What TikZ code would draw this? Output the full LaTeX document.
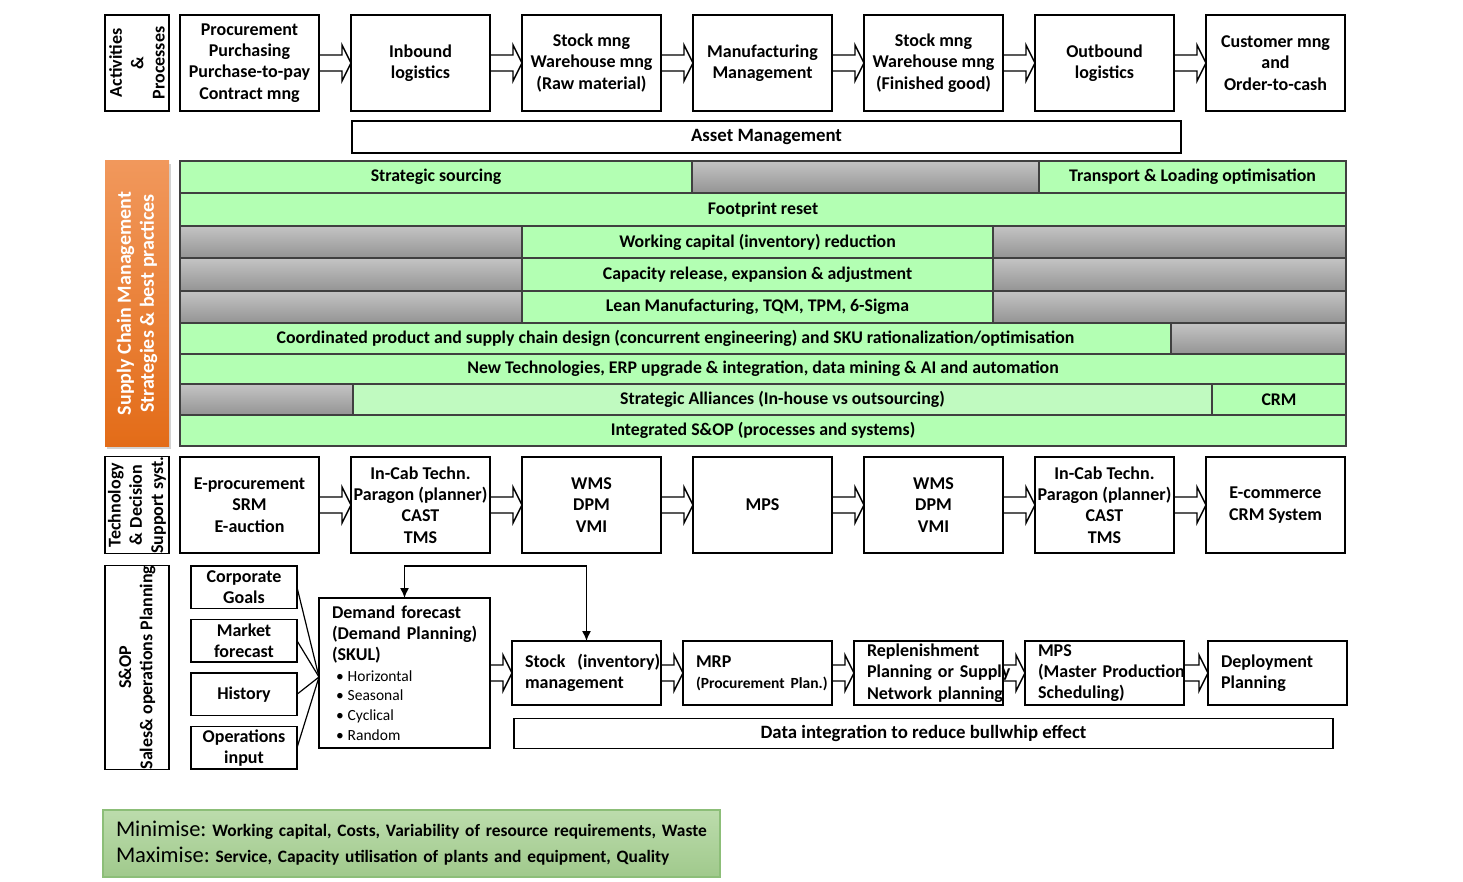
\documentclass[tikz,border=0pt]{standalone}
\usepackage{fontspec}
\setmainfont{Carlito}
\usetikzlibrary{positioning,calc,arrows.meta,shadows}
\definecolor{barGreen}{RGB}{179,255,179}
\definecolor{barGreenLight}{RGB}{192,250,192}
\definecolor{barEdge}{RGB}{64,64,64}
\definecolor{grayTop}{RGB}{196,196,196}
\definecolor{grayBot}{RGB}{148,148,148}
\definecolor{orangeL}{RGB}{241,152,92}
\definecolor{orangeR}{RGB}{227,108,24}
\definecolor{goalTop}{RGB}{188,220,172}
\definecolor{goalBot}{RGB}{160,201,140}
\definecolor{goalEdge}{RGB}{140,190,120}
\frenchspacing

% hollow block arrow from one box to the next
\newcommand{\flowarrow}[2]{%
  \draw[flow] ($(#1.east)+(0,-8)$) -- ($(#2.west)+(-9,-8)$) -- ($(#2.west)+(-9,-18)$)
    -- (#2.west) -- ($(#2.west)+(-9,18)$) -- ($(#2.west)+(-9,8)$) -- ($(#1.east)+(0,8)$);}
\newcommand{\bul}[1]{\mbox{\mdseries\fontsize{15.5}{18}\selectfont\hspace{4pt}\textbullet\hspace{4pt}#1}}
\newcommand{\bigword}[1]{{\mdseries\fontsize{22.5}{26}\selectfont #1}}

\begin{document}
\begin{tikzpicture}[x=1pt, y=-1pt,
  box/.style={draw, line width=1.4pt, minimum width=139, minimum height=96, inner sep=0pt,
    outer sep=0pt, align=center, font=\bfseries\fontsize{18}{21.3}\selectfont},
  sidebox/.style={box, rotate=90, minimum height=64},
  smallbox/.style={box, minimum width=106, minimum height=42.5},
  planbox/.style={box, minimum width=149, minimum height=64, text width=123, align=left},
  cell/.style={draw=barEdge, line width=1.2pt, fill=barGreen, inner sep=0pt, outer sep=0pt,
    font=\bfseries\fontsize{17.8}{20}\selectfont},
  graycell/.style={cell, top color=grayTop, bottom color=grayBot},
  flow/.style={line width=1.4pt, line join=miter},
  node distance=32pt]
\useasboundingbox (0,0) rectangle (1463,882);

% activities & processes
\node[sidebox, minimum width=96] (actl) at (137,63) {Activities\\\&\\Processes};
\node[box] (proc) at (249.5,63) {Procurement\\Purchasing\\Purchase-to-pay\\Contract mng};
\node[box, right=of proc] (inbound) {Inbound\\logistics};
\node[box, right=of inbound] (rawstock) {Stock mng\\Warehouse mng\\(Raw material)};
\node[box, right=of rawstock] (manuf) {Manufacturing\\Management};
\node[box, right=of manuf] (goodstock) {Stock mng\\Warehouse mng\\(Finished good)};
\node[box, right=of goodstock] (outbound) {Outbound\\logistics};
\node[box, right=of outbound] (customer) {Customer mng\\and\\Order-to-cash};
\node[box, minimum width=829, minimum height=32, font=\bfseries\fontsize{18.8}{22}\selectfont] (asset) at (766.5,137) {Asset Management};

% strategies & best practices
\node[sidebox, draw=none, minimum width=285, top color=orangeL, bottom color=orangeR,
  text=white, font=\bfseries\fontsize{20}{23}\selectfont,
  drop shadow={shadow xshift=1.5pt, shadow yshift=-3pt, fill=black!35}] (scm) at (137,303.5)
  {Supply Chain Management\\Strategies \& best practices};

\node[cell, anchor=north west, minimum width=512, minimum height=32] (sourcing) at (180,161) {Strategic sourcing};
\node[graycell, right=0pt of sourcing, minimum width=347, minimum height=32] (gap1) {};
\node[cell, right=0pt of gap1, minimum width=307, minimum height=32] (transport) {Transport \& Loading optimisation};
\node[cell, anchor=north west, minimum width=1166, minimum height=33] (footprint) at (180,193) {Footprint reset};
\node[graycell, anchor=north west, minimum width=342, minimum height=32] (gap2) at (180,226) {};
\node[cell, right=0pt of gap2, minimum width=471, minimum height=32] (workcap) {Working capital (inventory) reduction};
\node[graycell, right=0pt of workcap, minimum width=353, minimum height=32] (gap3) {};
\node[graycell, anchor=north west, minimum width=342, minimum height=33] (gap4) at (180,258) {};
\node[cell, right=0pt of gap4, minimum width=471, minimum height=33] (capacity) {Capacity release, expansion \& adjustment};
\node[graycell, right=0pt of capacity, minimum width=353, minimum height=33] (gap5) {};
\node[graycell, anchor=north west, minimum width=342, minimum height=32] (gap6) at (180,291) {};
\node[cell, right=0pt of gap6, minimum width=471, minimum height=32] (lean) {Lean Manufacturing, TQM, TPM, 6-Sigma};
\node[graycell, right=0pt of lean, minimum width=353, minimum height=32] (gap7) {};
\node[cell, anchor=north west, minimum width=991, minimum height=31] (design) at (180,323)
  {Coordinated product and supply chain design (concurrent engineering) and SKU rationalization/optimisation};
\node[graycell, right=0pt of design, minimum width=175, minimum height=31] (gap8) {};
\node[cell, anchor=north west, minimum width=1166, minimum height=30] (newtech) at (180,354)
  {New Technologies, ERP upgrade \& integration, data mining \& AI and automation};
\node[graycell, anchor=north west, minimum width=173, minimum height=31] (gap9) at (180,384) {};
\node[cell, right=0pt of gap9, fill=barGreenLight, minimum width=859, minimum height=31] (alliance) {Strategic Alliances (In-house vs outsourcing)};
\node[cell, right=0pt of alliance, minimum width=134, minimum height=31] (crm) {CRM};
\node[cell, anchor=north west, minimum width=1166, minimum height=31] (sop) at (180,415) {Integrated S\&OP (processes and systems)};

% technology & decision support
\node[sidebox, minimum width=96] (techl) at (137,505) {Technology\\\& Decision\\Support syst.};
\node[box] (eproc) at (249.5,505) {E-procurement\\SRM\\E-auction};
\node[box, right=of eproc] (incab) {In-Cab Techn.\\Paragon (planner)\\CAST\\TMS};
\node[box, right=of incab] (wmsraw) {WMS\\DPM\\VMI};
\node[box, right=of wmsraw] (mps) {MPS};
\node[box, right=of mps] (wmsgood) {WMS\\DPM\\VMI};
\node[box, right=of wmsgood] (incabout) {In-Cab Techn.\\Paragon (planner)\\CAST\\TMS};
\node[box, right=of incabout] (ecom) {E-commerce\\CRM System};

% S&OP
\node[sidebox, minimum width=203] (sopl) at (137,667.5) {S\&OP\\Sales\& operations Planning};
\node[smallbox] (goals) at (244,587.25) {Corporate\\Goals};
\node[smallbox, below=11pt of goals] (market) {Market\\forecast};
\node[smallbox, below=11pt of market] (history) {History};
\node[smallbox, below=11pt of history] (ops) {Operations\\input};
\node[box, minimum width=171, minimum height=150, text width=145, align=left] (demand) at (404.5,673)
  {\mbox{Demand forecast}\\\mbox{(Demand Planning)}\\\mbox{(SKUL)}\\[-1pt]
   \bul{Horizontal}\\[-1.5pt]\bul{Seasonal}\\[-1.5pt]\bul{Cyclical}\\[-1.5pt]\bul{Random}};
\node[planbox, right=22pt of demand] (stock) {\mbox{Stock~ (inventory)}\\\mbox{management}};
\node[planbox, right=22pt of stock] (mrp) {MRP\\\mbox{\fontsize{15.5}{18}\selectfont(Procurement Plan.)}};
\node[planbox, right=22pt of mrp] (replen) {\mbox{Replenishment}\\\mbox{Planning or Supply}\\\mbox{Network planning}};
\node[planbox, right=22pt of replen, minimum width=159, text width=133] (mpsplan) {MPS\\\mbox{(Master Production}\\\mbox{Scheduling)}};
\node[planbox, right=24pt of mpsplan, minimum width=139, text width=113] (deploy) {\mbox{Deployment}\\\mbox{Planning}};
\node[box, minimum width=819, minimum height=30, font=\bfseries\fontsize{18.8}{22}\selectfont] (dataint) at (923.5,733.5) {Data integration to reduce bullwhip effect};

\coordinate (merge) at ($(demand.west)+(0,4)$);
\foreach \s in {goals,market,history,ops}
  \draw[line width=1.2pt] (\s.east) -- (merge);
\draw[line width=1.4pt, {Latex[length=10pt,width=9pt]}-{Latex[length=10pt,width=9pt]}]
  (demand.north) -- ++(0,-32) -| (stock.north);

\foreach \a/\b in {proc/inbound, inbound/rawstock, rawstock/manuf, manuf/goodstock,
    goodstock/outbound, outbound/customer, eproc/incab, incab/wmsraw, wmsraw/mps,
    mps/wmsgood, wmsgood/incabout, incabout/ecom, demand/stock, stock/mrp, mrp/replen,
    replen/mpsplan, mpsplan/deploy}
  \flowarrow{\a}{\b};

% objectives
\node[draw=goalEdge, line width=1.2pt, top color=goalTop, bottom color=goalBot, minimum width=617,
  minimum height=67, inner sep=0pt, text width=591, align=left,
  font=\bfseries\fontsize{17.4}{26}\selectfont] (targets) at (411.5,843.5)
  {\mbox{\bigword{Minimise:} Working capital, Costs, Variability of resource requirements, Waste}\\
   \mbox{\bigword{Maximise:} Service, Capacity utilisation of plants and equipment, Quality}};
\end{tikzpicture}
\end{document}
